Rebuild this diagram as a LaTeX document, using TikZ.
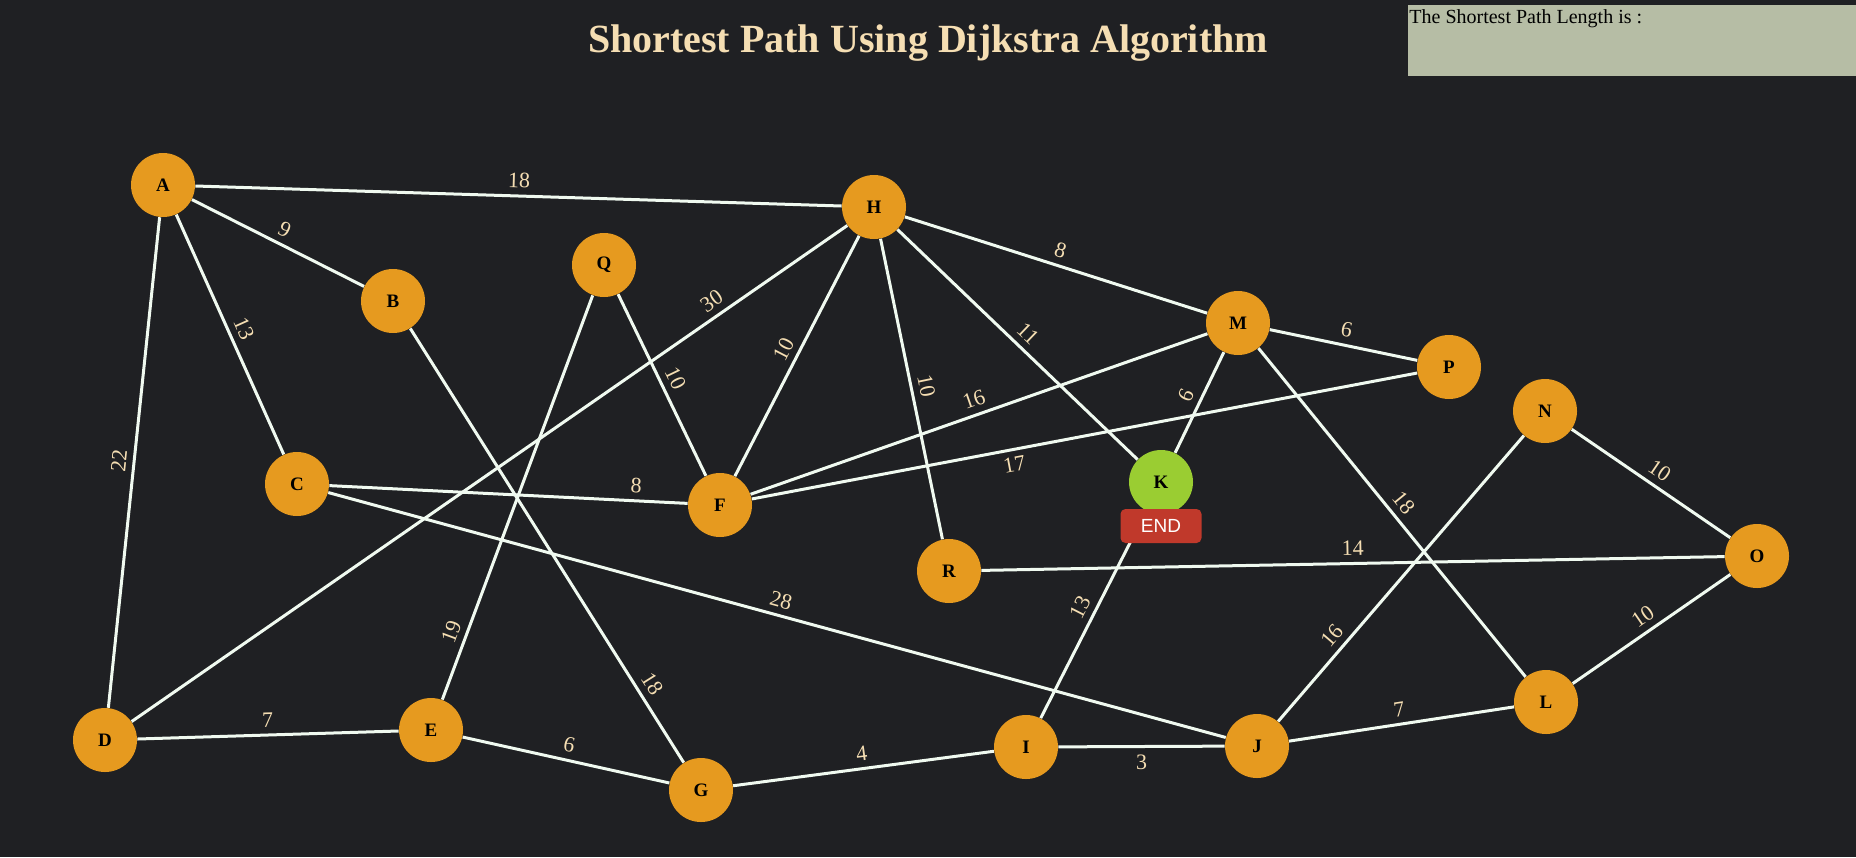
\documentclass[tikz,border=0pt]{standalone}
\usepackage{fontspec}
\setmainfont{Liberation Serif}
\newfontfamily\arialfont{Liberation Sans}
\pgfdeclarelayer{bglayer}
\pgfsetlayers{bglayer,main}
\definecolor{bgc}{HTML}{1F2023}
\definecolor{nodeor}{HTML}{E69A1F}
\definecolor{kgreen}{HTML}{9ACD32}
\definecolor{edgec}{HTML}{F0FAF0}
\definecolor{labc}{HTML}{F5DEB3}
\definecolor{titlec}{HTML}{F5DEB3}
\definecolor{boxc}{HTML}{B6BDA5}
\definecolor{endred}{HTML}{C0392B}
\begin{document}
\begin{tikzpicture}[x=0.5pt,y=-0.5pt,
  vtx/.style={circle, fill=nodeor, minimum size=32pt, inner sep=0pt, text=black, font=\bfseries\fontsize{9.5}{11}\selectfont},
  edge/.style={draw=edgec, line width=1.5pt},
  elabel/.style={sloped, inner sep=0pt, text=labc, font=\fontsize{11}{13}\selectfont},
  ab/.style={above=3.75pt},
  bl/.style={below=3.75pt}]
\useasboundingbox (0,0) rectangle (1856,857);
\begin{pgfonlayer}{bglayer}
\fill[bgc] (0,0) rectangle (1856,857);
\end{pgfonlayer}
% title and info box
\node[anchor=base, inner sep=0pt, text=titlec, font=\bfseries\fontsize{20}{24}\selectfont] (title) at (928,52) {Shortest Path Using Dijkstra Algorithm};
\node[anchor=north west, fill=boxc, minimum width=224pt, minimum height=35.5pt, inner sep=0pt] (box) at (1408,5) {};
\node[anchor=base west, inner sep=0pt, text=black, font=\fontsize{10}{12}\selectfont] (boxtxt) at (1409,23) {The Shortest Path Length is :};
% vertices
\node[vtx] (A) at (163,185) {A};
\node[vtx] (B) at (393,301) {B};
\node[vtx] (C) at (297,484) {C};
\node[vtx] (D) at (105,740) {D};
\node[vtx] (E) at (431,730) {E};
\node[vtx] (F) at (720,505) {F};
\node[vtx] (G) at (701,790) {G};
\node[vtx] (H) at (874,207) {H};
\node[vtx] (I) at (1026,747) {I};
\node[vtx] (J) at (1257,746) {J};
\node[vtx, fill=kgreen] (K) at (1161,482) {K};
\node[vtx] (L) at (1546,702) {L};
\node[vtx] (M) at (1238,323) {M};
\node[vtx] (N) at (1545,411) {N};
\node[vtx] (O) at (1757,556) {O};
\node[vtx] (P) at (1449,367) {P};
\node[vtx] (Q) at (604,265) {Q};
\node[vtx] (R) at (949,571) {R};
\node[fill=endred, rounded corners=2.5pt, minimum width=40.5pt, minimum height=17pt, inner sep=0pt, text=white, font=\arialfont\fontsize{9.5}{11}\selectfont] (endlbl) at (1161,526) {END};
% edges
\begin{pgfonlayer}{bglayer}
\draw[edge] (A) -- (H);
\draw[edge] (A) -- (B);
\draw[edge] (A) -- (C);
\draw[edge] (A) -- (D);
\draw[edge] (B) -- (G);
\draw[edge] (C) -- (F);
\draw[edge] (C) -- (J);
\draw[edge] (D) -- (H);
\draw[edge] (D) -- (E);
\draw[edge] (E) -- (Q);
\draw[edge] (E) -- (G);
\draw[edge] (Q) -- (F);
\draw[edge] (F) -- (H);
\draw[edge] (F) -- (M);
\draw[edge] (F) -- (P);
\draw[edge] (H) -- (M);
\draw[edge] (H) -- (K);
\draw[edge] (H) -- (R);
\draw[edge] (M) -- (P);
\draw[edge] (M) -- (K);
\draw[edge] (M) -- (L);
\draw[edge] (G) -- (I);
\draw[edge] (I) -- (J);
\draw[edge] (I) -- (K);
\draw[edge] (J) -- (N);
\draw[edge] (J) -- (L);
\draw[edge] (N) -- (O);
\draw[edge] (L) -- (O);
\draw[edge] (R) -- (O);
\end{pgfonlayer}
% edge labels
\path (A.center) -- node[elabel, pos=.5, ab] {18} (H.center);
\path (A.center) -- node[elabel, pos=.5, ab] {9} (B.center);
\path (A.center) -- node[elabel, pos=.5, ab] {13} (C.center);
\path (A.center) -- node[elabel, pos=.5, ab] {22} (D.center);
\path (B.center) -- node[elabel, pos=.8, ab] {18} (G.center);
\path (C.center) -- node[elabel, pos=.8, ab] {8} (F.center);
\path (C.center) -- node[elabel, pos=.5, ab] {28} (J.center);
\path (D.center) -- node[elabel, pos=.8, ab] {30} (H.center);
\path (D.center) -- node[elabel, pos=.5, ab] {7} (E.center);
\path (E.center) -- node[elabel, pos=.2, ab] {19} (Q.center);
\path (E.center) -- node[elabel, pos=.5, ab] {6} (G.center);
\path (Q.center) -- node[elabel, pos=.5, ab] {10} (F.center);
\path (F.center) -- node[elabel, pos=.5, ab] {10} (H.center);
\path (F.center) -- node[elabel, pos=.5, ab] {16} (M.center);
\path (F.center) -- node[elabel, pos=.4, bl] {17} (P.center);
\path (H.center) -- node[elabel, pos=.5, ab] {8} (M.center);
\path (H.center) -- node[elabel, pos=.5, ab] {11} (K.center);
\path (H.center) -- node[elabel, pos=.5, ab] {10} (R.center);
\path (M.center) -- node[elabel, pos=.5, ab] {6} (P.center);
\path (M.center) -- node[elabel, pos=.5, ab] {6} (K.center);
\path (M.center) -- node[elabel, pos=.5, ab] {18} (L.center);
\path (G.center) -- node[elabel, pos=.5, ab] {4} (I.center);
\path (I.center) -- node[elabel, pos=.5, bl] {3} (J.center);
\path (I.center) -- node[elabel, pos=.5, ab] {13} (K.center);
\path (J.center) -- node[elabel, pos=.3, ab] {16} (N.center);
\path (J.center) -- node[elabel, pos=.5, ab] {7} (L.center);
\path (N.center) -- node[elabel, pos=.5, ab] {10} (O.center);
\path (L.center) -- node[elabel, pos=.5, ab] {10} (O.center);
\path (R.center) -- node[elabel, pos=.5, ab] {14} (O.center);
\end{tikzpicture}
\end{document}
